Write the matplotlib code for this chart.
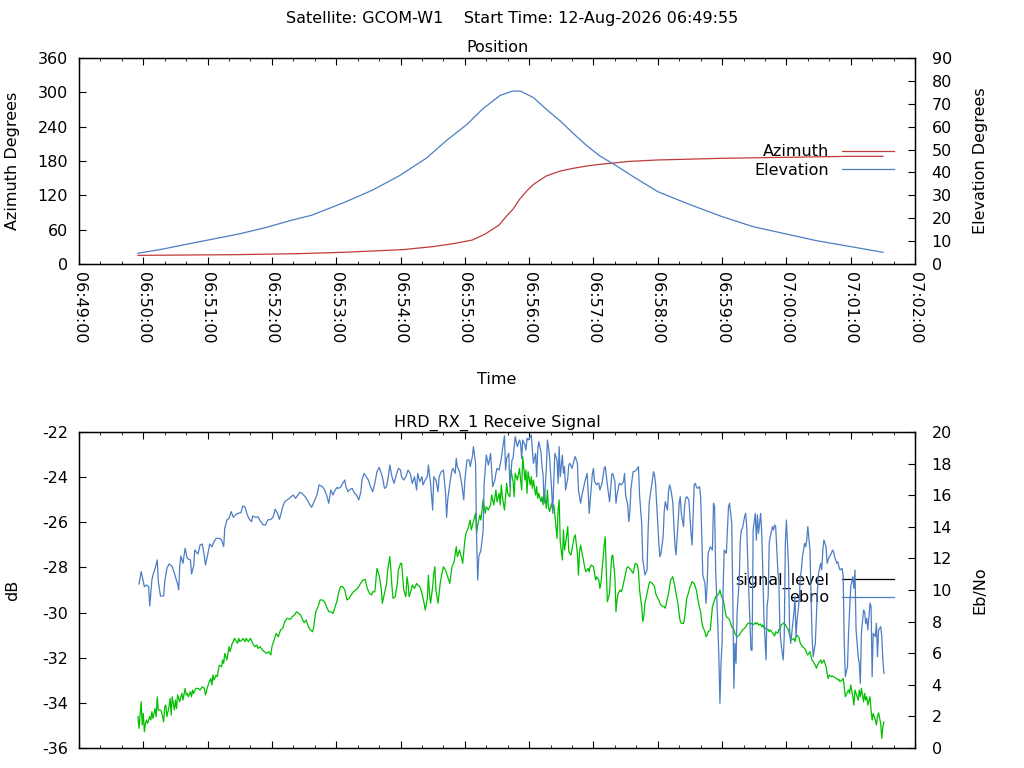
import matplotlib
matplotlib.use("Agg")
import matplotlib.pyplot as plt
from matplotlib.lines import Line2D
from matplotlib.ticker import MultipleLocator, FuncFormatter

plt.rcParams["font.family"] = ["DejaVu Sans"]
plt.rcParams["font.size"] = 11.5
plt.rcParams["axes.unicode_minus"] = False

SAT = "GCOM-W1"
START = "12-Aug-2026 06:49:55"
T0 = 6 * 3600 + 49 * 60  # seconds of 06:49:00, x axis origin

BLUE = "#4d7dc3"
RED = "#c03b3b"
GREEN = "#00c000"

# pass geometry, seconds after 06:49:00
elev_t = [55, 78, 100, 124, 149, 174, 199, 217, 224, 247, 274, 299, 324, 343,
          362, 377, 393, 405, 412, 424, 436, 449, 461, 474, 486, 500, 517,
          540, 567, 600, 629, 660, 688, 720, 750]
elevation = [4.7, 6.5, 8.6, 10.8, 13.1, 15.9, 19.2, 21.3, 22.6, 26.8, 32.3,
             38.6, 46.2, 54.0, 61.0, 67.9, 73.7, 75.6, 75.5, 72.7, 67.6, 62.5,
             57.1, 51.6, 47.2, 43.3, 38.2, 31.6, 26.5, 20.7, 16.3, 13.1, 10.2,
             7.6, 5.1]

azim_t = [55, 146, 205, 246, 274, 302, 330, 351, 367, 379, 392, 399, 405, 411,
          418, 424, 436, 449, 461, 474, 486, 502, 514, 540, 600, 660, 720, 750]
azimuth = [15.1, 16.3, 18.1, 20.4, 22.7, 25.1, 30.3, 36.1, 41.9, 52.4, 68.2,
           84.0, 96.0, 113.0, 128.0, 139.0, 153.8, 162.5, 167.2, 171.3, 174.2,
           177.1, 179.4, 181.8, 184.7, 186.4, 188.2, 188.2]

# receive signal, seconds after 06:49:00
sig_t = [55, 56, 58, 59, 60, 61, 62, 63, 64, 66, 67, 68, 69, 71, 72, 73, 74,
         76, 77, 79, 80, 81, 82, 84, 85, 86, 87, 89, 90, 91, 92, 94, 95, 96,
         97, 99, 100, 101, 102, 104, 105, 106, 107, 109, 111, 113, 115, 117,
         118, 120, 121, 123, 124, 125, 126, 128, 129, 130, 131, 133, 134, 135,
         136, 138, 139, 140, 141, 143, 144, 145, 146, 148, 149, 150, 152, 153,
         155, 156, 158, 160, 162, 164, 166, 167, 169, 171, 173, 175, 177, 179,
         180, 182, 184, 186, 188, 190, 192, 194, 195, 197, 199, 201, 203, 205,
         207, 208, 210, 212, 214, 216, 218, 219, 220, 221, 223, 225, 227, 229,
         231, 233,
         235, 237, 239, 241, 242, 244, 246, 248, 250, 252, 254, 256, 258, 259,
         261, 263, 265, 267, 269, 271, 273, 274, 276, 278, 280, 282, 283, 285,
         287, 288, 290, 291, 292, 293, 295, 297, 298, 300, 301, 302, 303, 305,
         306, 307, 308, 310, 311, 313, 315, 316, 318, 320, 322, 323, 325, 326,
         327, 328, 330, 331, 332, 333, 335, 336, 337, 338, 340, 342, 344, 346,
         348, 350, 352, 353, 355, 357, 358, 360, 361, 363, 365, 366, 368, 370,
         371, 372, 374, 375, 376, 377, 379, 380, 382, 384, 385, 387, 389, 390,
         392, 393, 394, 395, 397, 399, 400, 402, 403, 405, 406, 407, 409, 411,
         412,
         413, 414, 416, 417, 418, 419, 421, 422, 423, 424, 426, 427, 428, 429,
         431, 432, 433, 434, 436, 437, 438, 439, 441, 442, 443, 444, 446, 447,
         448, 449, 451, 452, 453, 454, 456, 457, 458, 459, 461, 462, 463, 465,
         466, 467, 468, 470, 471, 472, 473, 475, 476, 477, 478, 480, 481, 482,
         483, 485, 486, 487, 488, 490, 491, 492, 493, 495, 496, 497, 498, 500,
         501, 502, 503, 505, 506, 507, 508, 510, 511, 512, 513, 515, 517, 518,
         519, 521, 522, 523, 525, 526, 527, 528, 530, 531, 532, 533, 535, 536,
         537, 538, 540, 541, 542, 543, 545, 546, 547, 549, 550, 551, 552, 554,
         555, 556, 557, 559, 560, 561, 562, 564, 565, 566, 567, 569, 570, 571,
         572, 574, 575, 576, 577, 579, 580, 581, 582, 584, 585, 586, 587, 589,
         591, 592, 593, 594, 596, 597, 598, 599, 601, 602, 603, 604, 606, 607,
         608, 609, 611, 612, 613, 614, 616, 617, 618, 619, 621, 622, 623, 624,
         626, 627, 628, 629, 631, 632, 633, 634, 636, 637, 638, 639, 641, 642,
         643, 644, 645, 647, 648, 649, 650, 652, 653, 654, 655, 657, 658, 659,
         660, 662, 663, 664, 665, 667, 668, 669, 670, 672, 673, 674, 675, 677,
         678, 679, 680, 682, 683, 684, 685, 687, 688, 689, 690, 692, 693, 694,
         695, 697, 698, 699, 700, 702, 703, 704, 705, 707, 708, 709, 710, 712,
         713, 714, 715, 717, 718, 719, 720, 722, 723, 724, 725, 727, 728, 729,
         730, 732, 733, 734, 735, 736, 738, 739, 740, 741, 743, 744, 745, 746,
         748, 749, 750, 751]
signal_level = [
    -34.61, -35.13, -33.95, -34.98, -34.47, -35.28, -34.91, -34.76, -34.91,
    -34.61, -34.76, -34.39, -34.69, -34.25, -34.61, -33.73, -34.32, -34.32,
    -34.39, -34.84, -34.17, -34.10, -34.61, -34.17, -33.80, -34.54, -33.73,
    -34.32, -33.88, -34.25, -33.65, -33.95, -33.73, -33.58, -33.88, -33.36,
    -33.65, -33.58, -33.73, -33.51, -33.73, -33.43, -33.58, -33.36, -33.36,
    -33.43, -33.29, -33.36, -33.65, -33.29, -33.14, -32.92, -33.21, -32.77,
    -32.99, -32.77, -32.84, -32.55, -32.33, -32.40, -32.10, -32.25, -31.81,
    -32.10, -31.81, -31.51, -31.73, -31.36, -31.29, -31.14, -31.22, -31.36,
    -31.14, -31.29, -31.22, -31.14, -31.29, -31.14, -31.29, -31.14, -31.36,
    -31.51, -31.44, -31.59, -31.51, -31.66, -31.73, -31.81, -31.73, -31.88,
    -31.51, -31.22, -30.92, -31.07, -30.77, -30.70, -30.40, -30.26, -30.26,
    -30.30, -30.18, -30.11, -29.96, -30.04, -30.12, -30.26, -30.45, -30.33,
    -30.63, -30.77, -30.85, -30.63, -30.26, -29.96, -29.74, -29.44, -29.44,
    -29.52, -29.74, -29.96,
    -29.96, -30.04, -29.74, -29.44, -29.15, -28.85, -28.85, -29.00, -29.44,
    -29.37, -29.22, -29.08, -29.00, -28.97, -28.85, -28.68, -28.56, -28.53,
    -28.93, -29.15, -29.22, -29.08, -29.08, -28.04, -28.34, -28.93, -29.59,
    -29.15, -28.71, -28.12, -27.52, -28.12, -28.85, -29.37, -29.30, -28.71,
    -28.12, -27.82, -27.82, -28.41, -29.00, -29.30, -28.41, -28.71, -29.30,
    -29.00, -28.78, -28.93, -28.71, -28.78, -28.85, -29.15, -29.59, -29.89,
    -29.37, -28.34, -29.15, -29.59, -28.85, -28.26, -27.97, -29.00, -29.59,
    -29.15, -28.71, -28.41, -27.97, -28.12, -28.41, -28.71, -27.97, -27.75,
    -27.08, -27.52, -27.23, -27.60, -27.82, -26.79, -26.49, -26.27, -25.90,
    -26.34, -25.97, -25.60, -26.49, -26.12, -25.68, -25.90, -25.46, -25.01,
    -25.60, -25.31, -25.46, -25.23, -24.79, -25.23, -24.57, -25.09, -24.72,
    -25.23, -24.35, -24.87, -25.46, -24.27, -24.72, -24.87, -23.68, -24.20,
    -24.87, -23.83, -24.13, -23.61, -24.13,
    -24.57, -23.09, -24.13, -23.68, -24.72, -23.76, -24.35, -23.98, -24.50,
    -24.13, -24.79, -24.42, -24.94, -24.72, -25.09, -24.87, -25.23, -24.57,
    -25.38, -24.57, -25.31, -25.53, -25.16, -25.46, -25.23, -25.68, -26.71,
    -25.46, -25.01, -26.86, -27.67, -26.34, -27.23, -26.93, -26.19, -27.30,
    -27.38, -27.45, -26.93, -26.64, -26.56, -27.38, -28.34, -27.30, -27.01,
    -27.52, -27.75, -28.04, -28.19, -28.04, -28.19, -27.97, -27.89, -27.97,
    -28.26, -28.56, -28.41, -28.56, -28.93, -28.71, -28.12, -27.01, -26.64,
    -28.26, -29.52, -29.15, -28.26, -27.52, -27.45, -28.41, -29.96, -29.44,
    -29.15, -29.00, -29.08, -28.93, -28.71, -28.26, -28.04, -27.97, -28.00,
    -28.12, -28.26, -28.04, -27.82, -27.89, -28.19, -29.00, -29.74, -30.40,
    -30.18, -29.59, -29.15, -28.93, -28.71, -28.63, -28.71, -28.78, -28.85,
    -29.15, -29.37, -29.44, -29.59, -29.67, -29.74, -29.74, -29.81, -29.37,
    -29.15, -28.85, -28.56, -28.41, -28.63, -28.85, -29.15, -29.67, -30.11,
    -30.40, -30.48, -30.48, -30.26, -29.81, -29.37, -29.08, -28.85, -28.78,
    -28.63, -28.71, -28.85, -29.00, -29.30, -29.81, -29.96, -30.40, -30.63,
    -30.85, -31.07, -31.00, -30.85, -30.77,
    -29.74, -29.59, -29.44, -29.30, -29.22, -29.15, -29.00, -29.22, -29.44,
    -29.67, -29.96, -30.18, -30.26, -30.33, -30.48, -30.63, -30.77, -30.92,
    -31.00, -31.07, -31.00, -30.92, -30.85, -30.77, -30.70, -30.63, -30.55,
    -30.48, -30.45, -30.51, -30.48, -30.55, -30.45, -30.51, -30.45, -30.55,
    -30.51, -30.63, -30.55, -30.66, -30.70, -30.77, -30.74, -30.85, -30.77,
    -30.89, -30.95, -31.04, -30.85, -30.92, -30.74, -30.77, -30.55, -30.48,
    -30.45, -30.55, -30.63, -30.77, -31.00, -31.14, -31.22, -31.14, -31.29,
    -31.07, -31.00, -31.14, -31.36, -31.44, -31.51, -31.59, -31.66, -31.81,
    -31.88, -31.73, -31.96, -32.10, -32.18, -32.33, -32.47, -32.33, -32.25,
    -32.10, -32.25, -32.18, -32.10, -32.40, -32.69, -32.92, -32.77, -32.84,
    -32.81, -32.84, -32.87, -32.92, -32.99, -32.96, -33.06, -32.99, -32.92,
    -33.29, -33.73, -33.51, -33.43, -33.58, -33.21, -33.73, -34.10, -33.43,
    -33.58, -33.88, -33.43, -33.73, -33.36, -33.95, -33.58, -33.88, -33.73,
    -34.10, -33.73, -34.32, -34.76, -34.47, -34.76, -34.98, -34.61, -34.44,
    -34.91, -35.57, -35.06, -34.84]

ebno_t = [56, 58, 59, 61, 63, 65, 66, 68, 69, 71, 73, 74, 76, 79, 80, 82, 84,
          87, 89, 92, 93, 94, 95, 97, 99, 101, 104, 105, 107, 108, 111, 113,
          115, 117, 118, 120, 122, 124, 126, 128, 131, 133, 135, 136, 138, 140,
          142, 144, 146, 148, 151, 153, 155, 157, 159, 161, 162, 165, 167, 169,
          172, 174, 176, 179, 181, 183, 185, 187, 189, 190, 192, 195, 198, 200,
          202, 204, 206, 208, 211, 213, 215, 217, 219, 222, 224, 227, 229, 231,
          233,
          235, 237, 239, 241, 242, 244, 246, 248, 249, 251, 253, 255, 257, 259,
          261, 263, 264, 266, 268, 270, 272, 274, 276, 278, 280, 281, 283, 285,
          287, 289, 290, 292, 294, 296, 298, 300, 301, 303, 305, 307, 309, 311,
          313, 315, 316, 318, 320, 321, 323, 325, 326, 328, 330, 331, 333, 335,
          336, 338, 340, 342, 343, 344, 346, 348, 349, 351, 352, 353, 355, 357,
          359, 360, 362, 364, 365, 367, 368, 370, 371, 372, 373, 375, 377, 378,
          379, 380, 382, 384, 386, 388, 389, 390, 392, 394, 395, 397, 398, 399,
          401, 402, 404, 405, 407, 409, 411, 412,
          413, 414, 416, 417, 418, 419, 421, 422, 423, 424, 426, 427, 428, 429,
          431, 432, 433, 434, 436, 437, 438, 439, 441, 442, 443, 444, 446, 447,
          448, 449, 451, 452, 453, 454, 456, 457, 458, 460, 462, 463, 465, 466,
          468, 469, 470, 472, 474, 475, 476, 478, 479, 480, 481, 483, 484, 485,
          486, 488, 490, 491, 493, 495, 496, 497, 498, 500, 501, 502, 504, 506,
          508, 509, 510, 512, 513, 514, 515, 517, 518, 520, 522, 523, 525, 526,
          527, 528, 530, 531, 532, 533, 535, 536, 537, 538, 540, 541, 542, 543,
          545, 546, 547, 549, 550, 551, 552, 554, 555, 556, 557, 559, 560, 561,
          562, 564, 565, 566, 567, 569, 570, 571, 572, 574, 575, 576, 577, 579,
          580, 581, 582, 584, 585, 586, 587, 589,
          591, 592, 593, 594, 596, 597, 598, 599, 600, 601, 602, 604, 605, 606,
          607, 609, 610, 611, 612, 613, 614, 616, 617, 618, 619, 621, 622, 623,
          624, 626, 627, 628, 629, 631, 632, 633, 634, 636, 637, 638, 639, 641,
          642, 643, 644, 645, 647, 648, 649, 650, 652, 653, 654, 655, 657, 658,
          659, 660, 662, 663, 664, 665, 667, 668, 669, 670, 672, 673, 674, 675,
          677, 678, 679, 680, 682, 683, 684, 685, 687, 688, 689, 690, 692, 693,
          694, 695, 697, 698, 699, 700, 702, 703, 704, 705, 707, 708, 709, 710,
          712, 713, 714, 715, 717, 718, 719, 720, 722, 723, 724, 725, 727, 728,
          729, 730, 732, 733, 734, 735, 736, 738, 739, 740, 741, 743, 744, 745,
          746, 748, 749, 750, 751]
ebno = [
    10.38, 11.16, 10.84, 10.21, 10.32, 10.21, 8.99, 10.63, 10.95, 11.37,
    11.90, 10.53, 9.62, 9.62, 10.53, 11.37, 11.65, 11.48, 11.05, 10.38,
    10.00, 11.48, 12.15, 11.69, 12.64, 12.00, 11.90, 11.01, 11.52, 12.53,
    12.28, 12.85, 12.91, 12.11, 11.58, 12.22, 12.91, 12.74, 13.06, 13.27,
    13.27, 13.16, 12.74, 13.90, 14.43, 14.54, 14.96, 14.60, 14.75, 14.85,
    14.89, 15.32, 15.23, 14.75, 14.47, 14.32, 14.68, 14.60, 14.64, 14.39,
    14.11, 14.11, 14.43, 14.47, 14.60, 15.11, 14.89, 14.47, 14.96, 15.27,
    15.59, 15.74, 15.91, 16.01, 15.80, 15.99, 16.18, 16.12, 15.91, 15.70,
    15.44, 15.23, 15.53, 16.01, 16.65, 16.54, 16.37, 16.01, 15.49,
    16.33, 16.01, 16.33, 16.50, 16.43, 16.50, 16.75, 16.96, 16.54, 16.22,
    16.37, 16.43, 16.12, 16.01, 15.70, 16.22, 16.96, 17.38, 17.17, 16.96,
    16.54, 16.22, 16.75, 17.49, 17.76, 17.59, 17.17, 16.43, 16.54, 17.38,
    17.91, 17.17, 16.75, 17.28, 17.70, 17.59, 17.17, 16.96, 17.17, 17.59,
    17.38, 16.75, 17.17, 16.33, 17.38, 16.86, 17.17, 16.65, 16.96, 17.17,
    17.91, 16.75, 15.06, 17.17, 16.96, 16.22, 17.17, 17.49, 17.59, 16.12,
    14.60, 15.70, 16.75, 17.59, 17.70, 17.38, 18.33, 17.81, 17.49, 16.75,
    15.70, 16.96, 18.23, 18.23, 17.81, 18.44, 19.07, 18.02, 13.16, 10.63,
    12.11, 12.53, 13.69, 16.75, 17.59, 18.54, 17.91, 18.65, 16.54, 16.96,
    17.38, 17.70, 17.59, 18.33, 18.86, 19.75, 17.59, 18.33, 18.65, 16.54,
    18.23, 18.33, 19.70, 19.07, 19.49, 19.28,
    18.33, 19.49, 19.18, 18.86, 19.60, 19.49, 19.70, 19.81, 18.86, 18.02,
    18.65, 17.17, 18.86, 19.39, 18.76, 17.81, 17.28, 15.49, 17.59, 19.49,
    19.07, 18.44, 16.33, 14.85, 16.96, 18.65, 18.23, 16.75, 19.07, 17.17,
    18.54, 17.38, 17.81, 16.33, 17.07, 17.91, 18.02, 17.70, 18.23, 18.44,
    18.02, 16.33, 15.49, 15.91, 16.22, 16.86, 17.38, 16.33, 14.85, 16.54,
    17.38, 17.70, 16.86, 16.65, 16.75, 16.75, 16.33, 16.75, 17.70, 17.81,
    16.65, 15.59, 16.33, 17.28, 17.38, 16.86, 15.49, 16.01, 16.75, 16.65,
    16.86, 17.38, 16.01, 15.38, 14.32, 14.96, 16.43, 17.49, 17.49, 17.59,
    17.81, 16.01, 14.22, 11.90, 11.48, 10.95, 11.27, 13.80, 15.49, 16.01,
    16.96, 17.49, 17.28, 16.65, 14.11, 12.95, 12.11, 12.32, 13.38, 14.96,
    15.59, 15.06, 16.22, 16.65, 16.43, 15.59, 14.22, 12.85, 12.22, 14.32,
    15.49, 15.91, 14.85, 14.01, 15.27, 15.80, 15.91, 15.70, 14.75, 13.59,
    12.85, 16.65, 16.75, 16.54, 16.43, 16.54, 15.91, 13.59, 10.95, 10.42,
    9.16, 10.21, 12.32, 12.74,
    12.53, 15.49, 15.27, 11.27, 7.89, 5.78, 2.83, 5.36, 6.62, 10.21, 12.53,
    12.32, 13.80, 15.27, 15.49, 14.22, 9.58, 3.78, 6.62, 5.36, 8.52, 10.63,
    13.16, 13.80, 13.90, 14.64, 14.85, 14.01, 11.69, 7.89, 6.20, 6.20,
    13.80, 14.85, 13.16, 14.75, 13.59, 14.85, 13.59, 11.27, 8.31, 5.57,
    8.95, 9.58, 12.95, 13.38, 14.01, 13.80, 14.11, 14.01, 11.27, 10.42,
    7.47, 6.62, 5.57, 7.05, 12.95, 14.43, 11.48, 7.47, 6.62, 7.26, 8.52,
    9.58, 7.05, 8.10, 9.37, 10.84, 11.27, 12.11, 12.95, 12.74, 13.16, 14.01,
    12.53, 9.58, 7.05, 5.78, 6.62, 8.31, 10.00, 11.05, 11.69, 11.27, 12.53,
    13.16, 12.74, 11.69, 11.90, 12.11, 12.32, 12.53, 12.43, 12.11, 11.69,
    11.79, 11.48, 11.27, 11.37, 10.84, 6.62, 4.51, 5.15, 7.26, 8.73, 10.21,
    10.84, 10.11, 11.27, 7.47, 5.78, 5.36, 4.09, 7.26, 8.73, 8.63, 7.89,
    8.21, 7.47, 9.16, 8.95, 4.51, 7.26, 7.05, 7.89, 5.78, 7.47, 7.68, 7.05,
    5.57, 4.73]


def hms(t, pos=None):
    s = int(round(T0 + t))
    return "%02d:%02d:%02d" % (s // 3600, (s // 60) % 60, s % 60)


def style_time_axis(ax, labels):
    ax.set_xlim(0, 780)
    ax.xaxis.set_major_locator(MultipleLocator(60))
    ax.xaxis.set_minor_locator(MultipleLocator(20))
    ax.xaxis.set_major_formatter(FuncFormatter(hms))
    ax.tick_params(axis="x", which="both", direction="in", top=True,
                   bottom=True, labelbottom=labels, rotation=-90, pad=6)
    ax.tick_params(axis="x", which="major", length=5)
    ax.tick_params(axis="x", which="minor", length=2.4)
    ax.tick_params(axis="y", which="major", direction="in", length=5, pad=8)
    for sp in ax.spines.values():
        sp.set_linewidth(1.0)


fig = plt.figure(figsize=(10.24, 7.68), dpi=100)
fig.text(0.5, 1 - 18 / 768, "Satellite: %s    Start Time: %s" % (SAT, START),
         ha="center", va="center")

# ---- position panel
ax1 = fig.add_axes([79 / 1024, 1 - 264 / 768, 836 / 1024, 206 / 768])
ax1b = ax1.twinx()
style_time_axis(ax1, True)
ax1.set_ylim(0, 360)
ax1.yaxis.set_major_locator(MultipleLocator(60))
ax1b.set_ylim(0, 90)
ax1b.yaxis.set_major_locator(MultipleLocator(10))
ax1b.tick_params(axis="y", direction="in", length=5, pad=12)
for lab in ax1.get_xticklabels():
    lab.set_verticalalignment("top")

ax1.plot(azim_t, azimuth, color=RED, lw=0.9)
ax1b.plot(elev_t, elevation, color=BLUE, lw=0.9)
ax1.set_title("Position", pad=4, fontsize=11.5)
ax1.set_ylabel("Azimuth Degrees")
ax1.yaxis.set_label_coords(-0.07, 0.5)
ax1b.set_ylabel("Elevation Degrees")
ax1b.yaxis.set_label_coords(1.069, 0.5)
ax1.set_xlabel("Time")
ax1.xaxis.set_label_coords(0.5, -0.525)

ax1.legend(handles=[Line2D([], [], color=RED, lw=0.9),
                    Line2D([], [], color=BLUE, lw=0.9)],
           labels=["Azimuth", "Elevation"], markerfirst=False, frameon=False,
           loc="upper right", bbox_to_anchor=(0.983, 0.612), borderaxespad=0,
           handlelength=3.25, handletextpad=0.85, labelspacing=0.22,
           fontsize=11.5)

# ---- receive signal panel
ax2 = fig.add_axes([79 / 1024, 1 - 748 / 768, 836 / 1024, 316 / 768])
ax2b = ax2.twinx()
style_time_axis(ax2, False)
ax2.set_ylim(-36, -22)
ax2.yaxis.set_major_locator(MultipleLocator(2))
ax2b.set_ylim(0, 20)
ax2b.yaxis.set_major_locator(MultipleLocator(2))
ax2b.tick_params(axis="y", direction="in", length=5, pad=12)

ax2.plot(sig_t, signal_level, color=GREEN, lw=0.9)
ax2b.plot(ebno_t, ebno, color=BLUE, lw=0.9)
ax2.set_title("HRD_RX_1 Receive Signal", pad=4, fontsize=11.5)
ax2.set_ylabel("dB")
ax2.yaxis.set_label_coords(-0.07, 0.5)
ax2b.set_ylabel("Eb/No")
ax2b.yaxis.set_label_coords(1.069, 0.5)

ax2.legend(handles=[Line2D([], [], color="black", lw=0.9),
                    Line2D([], [], color=BLUE, lw=0.9)],
           labels=["signal_level", "ebno"], markerfirst=False, frameon=False,
           loc="upper right", bbox_to_anchor=(0.983, 0.576), borderaxespad=0,
           handlelength=3.25, handletextpad=0.85, labelspacing=0.12,
           fontsize=11.5)

fig.savefig("out.png", dpi=100)
